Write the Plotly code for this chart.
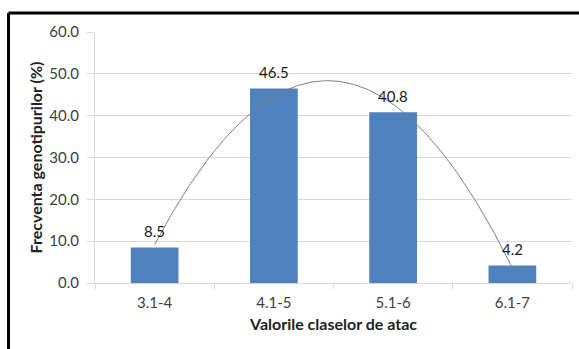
import numpy as np
import plotly.graph_objects as go

# Attack-class intervals and genotype frequency (%)
categories = ["3.1-4", "4.1-5", "5.1-6", "6.1-7"]
frequency = [8.5, 46.5, 40.8, 4.2]
y_ticks = [0, 10, 20, 30, 40, 50, 60]
y_tick_labels = ["0.0", "10.0", "20.0", "30.0", "40.0", "50.0", "60.0"]

W, H = 579, 349
ML, MR, MT, MB = 95, 7, 32, 66
FONT = "Lato, 'Open Sans', sans-serif"

fig = go.Figure()

fig.add_trace(go.Bar(
    x=categories, y=frequency,
    marker=dict(color="#4f81bd", line=dict(width=0)),
    showlegend=False,
))

# value labels above each bar
for cat, val in zip(categories, frequency):
    fig.add_annotation(
        x=cat, y=val, xref="x", yref="y", text=f"{val:.1f}",
        showarrow=False, yanchor="bottom", yshift=5,
        font=dict(size=15, color="#1a1a1a", family=FONT),
    )

# 2nd-order polynomial trendline over class index 1..4
idx = np.arange(1, len(frequency) + 1)
coef = np.polyfit(idx, frequency, 2)
xs = np.linspace(idx[0], idx[-1], 200)
fig.add_trace(go.Scatter(
    x=xs, y=np.polyval(coef, xs), xaxis="x2", mode="lines",
    line=dict(color="#7f7f7f", width=1), showlegend=False,
    hoverinfo="skip",
))

pw = W - ML - MR
ph = H - MT - MB
def px_x(p):
    return (p - ML) / pw
def px_y(p):
    return (H - MB - p) / ph

left, top = px_x(8.5), px_y(13)
fig.add_shape(type="line", xref="paper", yref="paper",
              x0=left, x1=left, y0=top, y1=px_y(H + 5),
              line=dict(color="black", width=3))
fig.add_shape(type="line", xref="paper", yref="paper",
              x0=left, x1=px_x(579), y0=top, y1=top,
              line=dict(color="black", width=3))

fig.update_layout(
    width=W, height=H,
    margin=dict(l=ML, r=MR, t=MT, b=MB),
    paper_bgcolor="white", plot_bgcolor="white",
    bargap=0.6,
    font=dict(family=FONT, size=15, color="#404040"),
    xaxis=dict(
        type="category", range=[-0.5, 3.5],
        showgrid=False, showline=True, linecolor="#d9d9d9", linewidth=1,
        ticks="outside", tickson="boundaries", ticklen=5, tickcolor="#d9d9d9",
        ticklabelstandoff=6,
        tickfont=dict(size=15, color="#404040"),
        title=dict(text="<b>Valorile claselor de atac</b>", standoff=8,
                   font=dict(size=16, color="#222222")),
    ),
    xaxis2=dict(overlaying="x", range=[0.5, 4.5], visible=False),
    yaxis=dict(
        range=[0, 60], tickvals=y_ticks, ticktext=y_tick_labels,
        showgrid=True, gridcolor="#d9d9d9", gridwidth=1,
        showline=True, linecolor="#d9d9d9", linewidth=1,
        ticks="outside", ticklen=7, tickcolor="#d9d9d9",
        ticklabelstandoff=5,
        zeroline=False,
        tickfont=dict(size=15, color="#404040"),
        title=dict(text="<b>Frecventa genotipurilor (%)</b>", standoff=2,
                   font=dict(size=16, color="#222222")),
    ),
)

fig.write_html("out.html")
